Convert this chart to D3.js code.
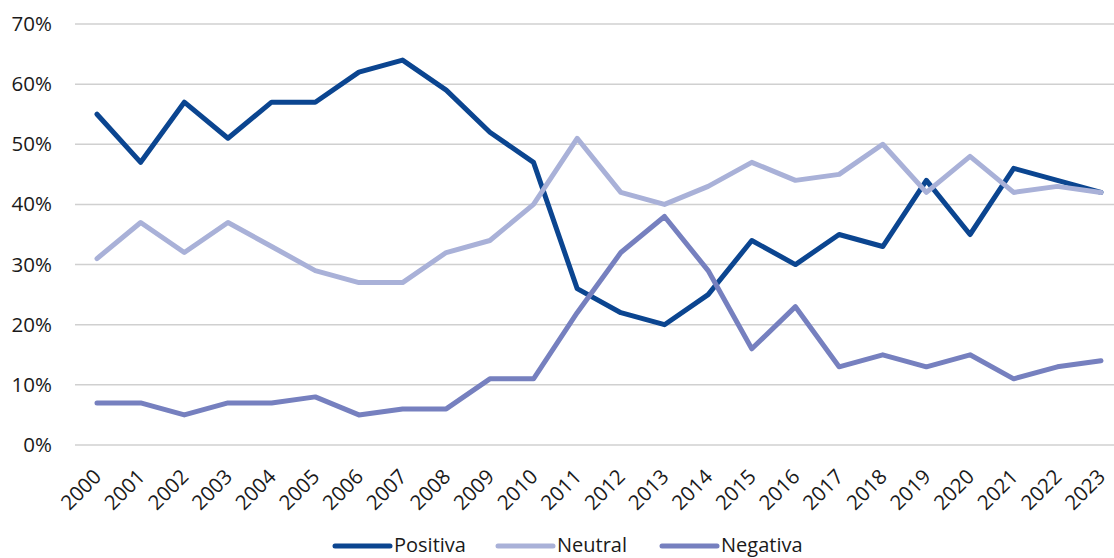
<!DOCTYPE html>
<html>
<head>
<meta charset="utf-8">
<script src="https://cdn.jsdelivr.net/npm/d3@7"></script>
<style>
  html, body { margin: 0; padding: 0; background: #fff; }
  svg { display: block; font-family: "Open Sans", "Noto Sans", sans-serif; }
</style>
</head>
<body>
<svg id="chart" width="1114" height="558"></svg>
<script>
// Yearly shares of positive, neutral and negative assessments
const years = ["2000","2001","2002","2003","2004","2005","2006","2007","2008","2009","2010","2011",
               "2012","2013","2014","2015","2016","2017","2018","2019","2020","2021","2022","2023"];
const positiva = [55, 47, 57, 51, 57, 57, 62, 64, 59, 52, 47, 26, 22, 20, 25, 34, 30, 35, 33, 44, 35, 46, 44, 42];
const neutral  = [31, 37, 32, 37, 33, 29, 27, 27, 32, 34, 40, 51, 42, 40, 43, 47, 44, 45, 50, 42, 48, 42, 43, 42];
const negativa = [7, 7, 5, 7, 7, 8, 5, 6, 6, 11, 11, 22, 32, 38, 29, 16, 23, 13, 15, 13, 15, 11, 13, 14];
const yTicks = [0, 10, 20, 30, 40, 50, 60, 70];

const series = [
  { name: "Positiva", values: positiva, color: "#0b4590" },
  { name: "Neutral",  values: neutral,  color: "#a9b1d8" },
  { name: "Negativa", values: negativa, color: "#7680bf" }
];

const svg = d3.select("#chart");
const gridLeft = 75, gridRight = 1114;

const x = d3.scalePoint().domain(years).range([97, 1101]);
const y = d3.scaleLinear().domain([0, 70]).range([445, 24]);

// Horizontal gridlines
svg.append("g")
  .selectAll("line")
  .data(yTicks)
  .join("line")
  .attr("x1", gridLeft).attr("x2", gridRight)
  .attr("y1", d => y(d)).attr("y2", d => y(d))
  .attr("stroke", "#d0d0d0").attr("stroke-width", 1.5);

// Y axis labels
const yAxis = d3.axisLeft(y).tickValues(yTicks).tickFormat(d => d + "%").tickSize(0).tickPadding(0);
svg.append("g")
  .attr("transform", "translate(52,0)")
  .call(yAxis)
  .call(g => g.select(".domain").remove())
  .call(g => g.selectAll("text")
    .attr("font-size", 20.5).attr("fill", "#1a1a1a")
    .attr("font-family", "'Open Sans', sans-serif"));

// X axis labels, rotated
const xAxis = d3.axisBottom(x).tickSize(0).tickPadding(0);
svg.append("g")
  .attr("transform", "translate(0,473)")
  .call(xAxis)
  .call(g => g.select(".domain").remove())
  .call(g => g.selectAll("text")
    .attr("font-size", 20.5).attr("fill", "#1a1a1a")
    .attr("font-family", "'Open Sans', sans-serif")
    .attr("text-anchor", "end")
    .attr("y", 0)
    .attr("dy", "0.35em")
    .attr("transform", "rotate(-45)"));

// Lines
const line = d3.line().x((d, i) => x(years[i])).y(d => y(d));
svg.append("g")
  .selectAll("path")
  .data(series)
  .join("path")
  .attr("d", d => line(d.values))
  .attr("fill", "none")
  .attr("stroke", d => d.color)
  .attr("stroke-width", 5)
  .attr("stroke-linejoin", "round")
  .attr("stroke-linecap", "round");

// Legend
const legendX = [335, 498, 662];
const legend = svg.append("g")
  .selectAll("g")
  .data(series)
  .join("g")
  .attr("transform", (d, i) => `translate(${legendX[i]},546)`);
legend.append("line")
  .attr("x1", 0).attr("x2", 55)
  .attr("stroke", d => d.color).attr("stroke-width", 5).attr("stroke-linecap", "round");
legend.append("text")
  .attr("x", 59).attr("y", 6)
  .attr("font-size", 20).attr("fill", "#1a1a1a")
  .text(d => d.name);
</script>
</body>
</html>
